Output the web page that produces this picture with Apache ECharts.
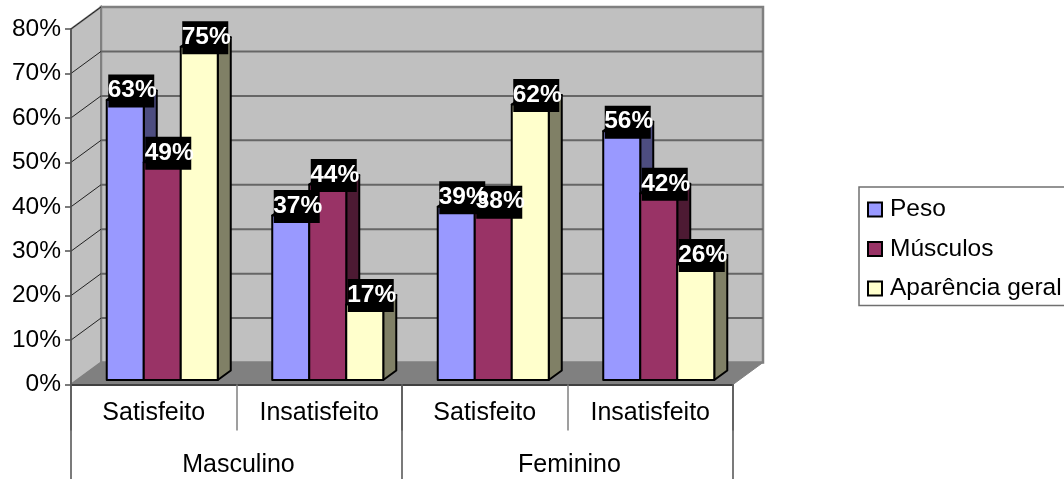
<!DOCTYPE html>
<html>
<head>
<meta charset="utf-8">
<style>html,body{margin:0;padding:0;background:#fff;overflow:hidden}#c{width:1064px;height:479px}</style>
<script src="https://cdn.jsdelivr.net/npm/echarts@6/dist/echarts.min.js"></script>
</head>
<body>
<div id="c"></div>
<script>
const situacoes = ['Satisfeito', 'Insatisfeito', 'Satisfeito', 'Insatisfeito'];
const generos = ['Masculino', 'Feminino'];
const peso = [63, 37, 39, 56];
const musculos = [49, 44, 38, 42];
const aparencia = [75, 17, 62, 26];
const ticksY = [0, 10, 20, 30, 40, 50, 60, 70, 80];

const FONT = '"Liberation Sans", Arial, sans-serif';

// Oblique projection of the chart box
const WALL_DX = 30, WALL_DY = -22;
const BAR_DX = 8.5, BAR_DY = -4.5;
const SIDE_DX = 13, SIDE_DY = -9.5;
const BAR_SHARE = 0.2236;

function renderWalls(params, api) {
  const band = api.size([1, 0])[0];
  const bottom = api.coord([0, 0]);
  const top = api.coord([0, 80]);
  const x0 = bottom[0] - band / 2;
  const x1 = api.coord([3, 0])[0] + band / 2;
  const y0 = bottom[1], y8 = top[1];
  const children = [
    { type: 'polygon', shape: { points: [[x0 + WALL_DX, y8 + WALL_DY], [x1 + WALL_DX, y8 + WALL_DY], [x1 + WALL_DX, y0 + WALL_DY], [x0 + WALL_DX, y0 + WALL_DY]] },
      style: { fill: '#c0c0c0', stroke: '#808080', lineWidth: 2.5 } },
    { type: 'polygon', shape: { points: [[x0, y8], [x0 + WALL_DX, y8 + WALL_DY], [x0 + WALL_DX, y0 + WALL_DY], [x0, y0]] },
      style: { fill: '#c0c0c0', stroke: '#808080', lineWidth: 2 } }
  ];
  ticksY.forEach(t => {
    const y = api.coord([0, t])[1];
    if (t > 0 && t < 80) {
      children.push({ type: 'line', shape: { x1: x0 + WALL_DX, y1: y + WALL_DY, x2: x1 + WALL_DX, y2: y + WALL_DY },
        style: { stroke: '#666666', lineWidth: 2 } });
    }
    if (t > 0) {
      children.push({ type: 'line', shape: { x1: x0, y1: y, x2: x0 + WALL_DX, y2: y + WALL_DY },
        style: { stroke: '#222222', lineWidth: 1 } });
    }
  });
  children.push({ type: 'polygon', shape: { points: [[x0, y0], [x0 + WALL_DX, y0 + WALL_DY], [x1 + WALL_DX, y0 + WALL_DY], [x1, y0]] },
    style: { fill: '#808080', stroke: '#808080', lineWidth: 1 } });
  return { type: 'group', children };
}

function barRenderer(slot, face, side, topFace) {
  return function (params, api) {
    const cat = api.value(0), val = api.value(1);
    const band = api.size([1, 0])[0];
    const w = band * BAR_SHARE;
    const head = api.coord([cat, val]);
    const foot = api.coord([cat, 0]);
    const x = head[0] + BAR_DX + (slot - 0.5) * w;
    const yt = head[1] + BAR_DY, yb = foot[1] + BAR_DY;
    const edge = { stroke: '#000000', lineWidth: 2, lineJoin: 'round' };
    return {
      type: 'group',
      children: [
        { type: 'polygon', shape: { points: [[x + w, yt], [x + w + SIDE_DX, yt + SIDE_DY], [x + w + SIDE_DX, yb + SIDE_DY], [x + w, yb]] },
          style: Object.assign({ fill: side }, edge) },
        { type: 'polygon', shape: { points: [[x, yt], [x + SIDE_DX, yt + SIDE_DY], [x + w + SIDE_DX, yt + SIDE_DY], [x + w, yt]] },
          style: Object.assign({ fill: topFace }, edge) },
        { type: 'rect', shape: { x, y: yt, width: w, height: yb - yt },
          style: Object.assign({ fill: face }, edge) },
        { type: 'rect', z2: 101 + slot, shape: { x: x + w / 2 + 6 - 23, y: yt - 25.5, width: 46, height: 33 },
          style: { fill: '#000000' } },
        { type: 'text', z2: 201 + slot, x: x + w / 2 + 7, y: yt - 9.5,
          style: { text: val + '%', fill: '#ffffff', font: 'bold 24.5px ' + FONT, align: 'center', verticalAlign: 'middle' } }
      ]
    };
  };
}

function barSeries(name, values, slot, face, side, topFace) {
  return {
    name, type: 'custom', coordinateSystem: 'cartesian2d', xAxisIndex: 0, yAxisIndex: 0,
    clip: false, silent: true,
    encode: { x: 0, y: 1 },
    itemStyle: { color: face, borderColor: '#000000', borderWidth: 2 },
    data: values.map((v, i) => [i, v]),
    renderItem: barRenderer(slot, face, side, topFace)
  };
}

const chart = echarts.init(document.getElementById('c'), null, { renderer: 'canvas' });
chart.setOption({
  animation: false,
  backgroundColor: '#ffffff',
  textStyle: { fontFamily: FONT },
  grid: { left: 71, top: 29, width: 662, height: 355.5 },
  xAxis: [
    { type: 'category', data: situacoes, position: 'bottom', z: 5,
      axisLine: { show: true, lineStyle: { color: '#404040', width: 2 } },
      axisTick: { show: true, length: 46, lineStyle: { color: '#808080', width: 1.5 } },
      axisLabel: { color: '#000000', fontSize: 25, fontFamily: FONT, margin: 16, interval: 0 } },
    { type: 'category', data: generos, position: 'bottom', z: 5,
      axisLine: { show: false },
      axisTick: { show: true, length: 95, lineStyle: { color: '#505050', width: 1.5 } },
      axisLabel: { color: '#000000', fontSize: 25, fontFamily: FONT, margin: 68, padding: [0, 0, 0, 4], interval: 0 } }
  ],
  yAxis: { type: 'value', min: 0, max: 80, interval: 10, z: 5,
    splitLine: { show: false },
    axisLine: { show: true, lineStyle: { color: '#505050', width: 1.5 } },
    axisTick: { show: true, length: 6, lineStyle: { color: '#505050', width: 1.5 } },
    axisLabel: { color: '#000000', fontSize: 24.5, fontFamily: FONT, margin: 10, padding: [6, 0, 0, 0], formatter: '{value}%' } },
  legend: {
    orient: 'vertical', left: 859, top: 187,
    padding: [10, 20, 4.5, 8],
    backgroundColor: '#ffffff', borderColor: '#707070', borderWidth: 1.5,
    itemWidth: 14, itemHeight: 14, itemGap: 14.5,
    icon: 'rect',
    textStyle: { color: '#000000', fontSize: 24.5, fontFamily: FONT, padding: [0, 0, 8, 3] },
    data: ['Peso', 'Músculos', 'Aparência geral']
  },
  series: [
    { type: 'custom', coordinateSystem: 'cartesian2d', xAxisIndex: 0, yAxisIndex: 0, clip: false, silent: true,
      encode: { x: 0, y: 1 }, data: [[0, 0]], renderItem: renderWalls },
    barSeries('Peso', peso, -1, '#9999ff', '#4d4d80', '#7a7acc'),
    barSeries('Músculos', musculos, 0, '#993366', '#4d1a33', '#7a2952'),
    barSeries('Aparência geral', aparencia, 1, '#ffffcc', '#808066', '#cccca3')
  ]
});
</script>
</body>
</html>
